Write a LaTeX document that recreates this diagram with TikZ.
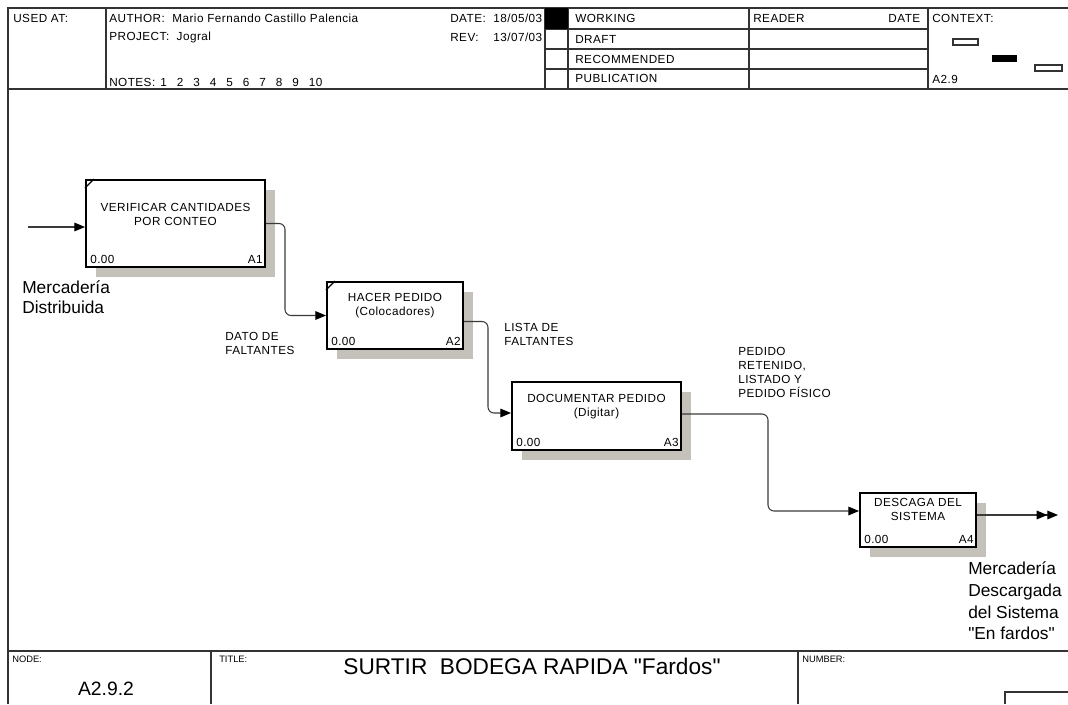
\documentclass[tikz,border=0pt]{standalone}
\usepackage{fontspec}
\setmainfont{Liberation Sans}[Ligatures=TeXOff]
\newfontfamily\smallfont{Liberation Sans}[LetterSpace=4]
\usepackage{tikz}
\usetikzlibrary{positioning, arrows.meta, calc, shadows}
\definecolor{Frame}{HTML}{333333}
\definecolor{Flow}{HTML}{3A3A3A}
\definecolor{ShadowGray}{HTML}{C4C1BB}
\newcommand{\pxu}{0.75pt}

\begin{document}
\begin{tikzpicture}[
    x=0.75pt, y=-0.75pt,
    every node/.style={font=\smallfont\fontsize{8.8}{10.5}\selectfont, inner sep=0pt},
    actbox/.style={rectangle, draw=black, line width=1.5pt, fill=white,
        drop shadow={shadow xshift=7.5pt, shadow yshift=-7.5pt, fill=ShadowGray, opacity=1}},
    flow/.style={Flow, line width=0.8pt, rounded corners=4.5pt,
        -{Triangle[length=8pt,width=6.5pt,color=black]}},
    ruleline/.style={Frame, line width=1pt},
    hdr/.style={anchor=west},
    ftlbl/.style={anchor=west, font=\fontsize{7}{8}\selectfont},
    smalllbl/.style={anchor=north west, align=left},
    biglbl/.style={anchor=north west, align=left, font=\fontsize{13}{15}\selectfont}
]
\useasboundingbox (0,0) rectangle (1068,704);

% === FRAME ===
\draw[ruleline] (1068,8) -- (8,8) -- (8,704);
\draw[ruleline] (8,89) -- (1068,89);
\draw[ruleline] (8,651) -- (1068,651);

% === HEADER ===
\foreach \cx in {106,545,568,749,928}
    \draw[ruleline] (\cx,8) -- (\cx,89);
\foreach \ry in {29,49,69}
    \draw[ruleline] (545,\ry) -- (928,\ry);
\fill[black] (545,8) rectangle (568,29);

\node[hdr] (usedat) at (13,18) {USED AT:};
\node[hdr] (author) at (109,18) {AUTHOR:\ \ Mario Fernando Castillo Palencia};
\node[hdr] (project) at (109,37) {PROJECT:\ \ Jogral};
\node[anchor=base west] (notes) at (109,86) {NOTES:};
\foreach \n [count=\i] in {1,...,10}
    \node[anchor=base west] (note\n) at ({160+16.5*(\i-1)},86) {\n};
\node[hdr, text width=92*\pxu] (date) at (450,18) {DATE:\hfill 18/05/03};
\node[hdr, text width=92*\pxu] (rev) at (450,37) {REV:\hfill 13/07/03};

% status rows
\node[hdr] (working) at (575,18.5) {WORKING};
\node[hdr] (draft) at (575,39) {DRAFT};
\node[hdr] (recom) at (575,59) {RECOMMENDED};
\node[hdr] (publ) at (575,78.5) {PUBLICATION};
\node[hdr, text width=167*\pxu] (reader) at (753,18.5) {READER\hfill DATE};

% context
\node[hdr] (context) at (932,18.5) {CONTEXT:};
\node[hdr] (ctxid) at (932,79) {A2.9};
\draw[Frame, line width=0.8pt, fill=white] (953,39) rectangle (978,45);
\fill[black] (992,55) rectangle (1017,62);
\draw[Frame, line width=0.8pt, fill=white] (1035,65) rectangle (1062,71);

% === ACTIVITY BOXES ===
\node[actbox, minimum width=179*\pxu, minimum height=87*\pxu] (a1) at (175.5,223.5) {};
\node[align=center] (a1t) at ($(a1.north)+(0,35)$) {VERIFICAR CANTIDADES\\POR CONTEO};
\node[anchor=base west] (a1n) at ($(a1.south west)+(5,-5)$) {0.00};
\node[anchor=base east] (a1c) at ($(a1.south east)+(-3,-5)$) {A1};
\draw[line width=1pt] ($(a1.north west)+(0,9)$) -- ($(a1.north west)+(9,0)$);

\node[actbox, minimum width=136*\pxu, minimum height=67*\pxu] (a2) at (395,315.5) {};
\node[align=center] (a2t) at ($(a2.north)+(0,25)$) {HACER PEDIDO\\(Colocadores)};
\node[anchor=base west] (a2n) at ($(a2.south west)+(5,-5)$) {0.00};
\node[anchor=base east] (a2c) at ($(a2.south east)+(-3,-5)$) {A2};
\draw[line width=1pt] ($(a2.north west)+(0,9)$) -- ($(a2.north west)+(9,0)$);

\node[actbox, minimum width=169*\pxu, minimum height=68*\pxu] (a3) at (596.5,416) {};
\node[align=center] (a3t) at ($(a3.north)+(0,25.5)$) {DOCUMENTAR PEDIDO\\(Digitar)};
\node[anchor=base west] (a3n) at ($(a3.south west)+(5,-5)$) {0.00};
\node[anchor=base east] (a3c) at ($(a3.south east)+(-3,-5)$) {A3};

\node[actbox, minimum width=116*\pxu, minimum height=54*\pxu] (a4) at (918,520) {};
\node[align=center] (a4t) at ($(a4.north)+(0,17)$) {DESCAGA DEL\\SISTEMA};
\node[anchor=base west] (a4n) at ($(a4.south west)+(5,-5)$) {0.00};
\node[anchor=base east] (a4c) at ($(a4.south east)+(-3,-5)$) {A4};

% === CONNECTORS ===
\coordinate (in1) at (28,227);
\coordinate (out1) at (1058,515);
\draw[flow] (in1) -- (in1 -| a1.west);
\draw[flow] (a1.east) -- ++(19,0) |- (a2.west);
\draw[flow] ($(a2.east)+(0,6)$) -- ++(24,0) |- ($(a3.west)+(0,-3)$);
\draw[flow] ($(a3.east)+(0,-2)$) -- ++(86,0) |- ($(a4.west)+(0,-9)$);
\draw[flow, -{Triangle[length=8pt,width=6.5pt,color=black] Triangle[length=8pt,width=6.5pt,color=black]}]
    ($(a4.east)+(0,-5)$) -- (out1);

% === ARROW LABELS ===
\node[biglbl] (inlbl) at (22,280.5) {Mercadería\\Distribuida};
\node[smalllbl] (lbl12) at (225,332.5) {DATO DE\\FALTANTES};
\node[smalllbl] (lbl23) at (504,323.5) {LISTA DE\\FALTANTES};
\node[smalllbl] (lbl34) at (738,347.5) {PEDIDO\\RETENIDO,\\LISTADO Y\\PEDIDO FÍSICO};
\node[biglbl, font=\fontsize{13}{16.3}\selectfont] (outlbl) at (968,561.5)
    {Mercadería\\Descargada\\del Sistema\\"En fardos"};

% === FOOTER ===
\foreach \cx in {211,798}
    \draw[ruleline] (\cx,651) -- (\cx,704);
\draw[ruleline] (1005,704) -- (1005,692) -- (1068,692);
\node[ftlbl] (nodelbl) at (12,659) {NODE:};
\node[ftlbl] (titlelbl) at (219,659) {TITLE:};
\node[ftlbl] (numlbl) at (802,659) {NUMBER:};
\node[font=\fontsize{14.5}{16}\selectfont] (nodeid) at (106,689) {A2.9.2};
\node[font=\fontsize{17}{20}\selectfont] (title) at (532,666) {SURTIR\ \ BODEGA RAPIDA "Fardos"};

\end{tikzpicture}
\end{document}
